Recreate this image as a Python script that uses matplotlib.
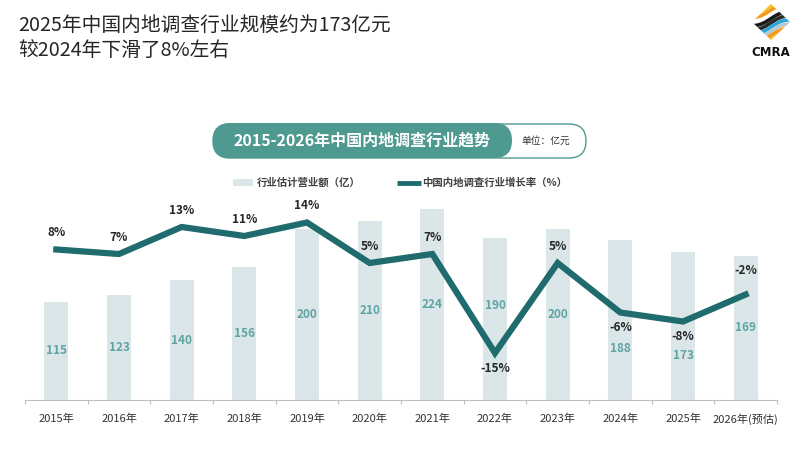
import matplotlib
matplotlib.use("Agg")
import matplotlib.pyplot as plt
from matplotlib.patches import FancyBboxPatch, Rectangle, Polygon
import numpy as np

plt.rcParams['font.family'] = ['Noto Sans CJK SC', 'DejaVu Sans']

# data
years = ['2015年', '2016年', '2017年', '2018年', '2019年', '2020年',
         '2021年', '2022年', '2023年', '2024年', '2025年', '2026年(预估)']
revenue = [115, 123, 140, 156, 200, 210, 224, 190, 200, 188, 173, 169]
growth = [8, 7, 13, 11, 14, 5, 7, -15, 5, -6, -8, -2]

title1 = '2025年中国内地调查行业规模约为173亿元'
title2 = '较2024年下滑了8%左右'
banner = '2015-2026年中国内地调查行业趋势'
unit = '单位：亿元'
leg_bar = '行业估计营业额（亿）'
leg_line = '中国内地调查行业增长率（%）'

# colours
bar_c = '#dbe6e8'
line_c = '#1f6b6d'
teal = '#4e9990'
barlbl_c = '#5ea4a2'
dark = '#262626'

W, H = 800, 450
fig = plt.figure(figsize=(8, 4.5), dpi=100)
fig.patch.set_facecolor('white')

# overlay in pixel coords for header items
ov = fig.add_axes([0, 0, 1, 1], zorder=0)
ov.set_xlim(0, W)
ov.set_ylim(H, 0)
ov.axis('off')

ov.text(18, 25, title1, fontsize=14.2, color=dark, va='center', ha='left')
ov.text(18, 50, title2, fontsize=14.2, color=dark, va='center', ha='left')

# banner pill
ov.add_patch(FancyBboxPatch((213, 124), 373, 34, boxstyle='round,pad=0,rounding_size=17',
                            fc='white', ec=teal, lw=1.0))
ov.add_patch(FancyBboxPatch((213, 123), 299, 35, boxstyle='round,pad=0,rounding_size=17.5',
                            fc=teal, ec='none'))
ov.text(362, 140.5, banner, fontsize=11.5, fontweight='bold', color='white', ha='center', va='center')
ov.text(546, 140.5, unit, fontsize=7, color='#333333', ha='center', va='center')

# legend
ov.add_patch(Rectangle((233, 179), 20, 7, fc=bar_c, ec='none'))
ov.text(257, 182.5, leg_bar, fontsize=7.5, fontweight='bold', color='#404040', ha='left', va='center')
ov.plot([397, 421], [182.5, 182.5], color=line_c, lw=3.5, solid_capstyle='butt')
ov.text(422, 182.5, leg_line, fontsize=7.5, fontweight='bold', color='#404040', ha='left', va='center')

# logo: wavy stripes clipped to a diamond
diamond = Polygon([(771, 4), (790, 22), (771, 40), (752, 22)], closed=True,
                  fc='none', ec='none', transform=ov.transData)
ov.add_patch(diamond)
stripe_cols = ['#f7c21b', '#f39a1e', 'white', '#1a1a1a', '#2a2a2a', '#2aa7d8',
               '#b8c7d0', '#f39a1e', '#f7c21b']
xs = np.linspace(750, 792, 60)
for i, c in enumerate(stripe_cols):
    ys = 6 + i * 4.2 - 0.35 * (xs - 771) + 2.0 * np.sin((xs - 750) / 42 * 2 * np.pi)
    ln, = ov.plot(xs, ys, color=c, lw=2.6, solid_capstyle='butt')
    ln.set_clip_path(diamond)
ov.text(771, 52, 'CMRA', fontsize=8.5, fontweight='bold', color='#111111', ha='center', va='center',
        family='DejaVu Sans')

# chart
ax = fig.add_axes([25 / W, 50 / H, 752 / W, 210 / H], zorder=1)
ax.patch.set_alpha(0)
x = np.arange(len(years))
ax.bar(x, revenue, width=0.38, color=bar_c, zorder=1)
ax.set_xlim(-0.5, len(years) - 0.5)
ax.set_ylim(0, 246)
for s in ['top', 'right', 'left']:
    ax.spines[s].set_visible(False)
ax.spines['bottom'].set_color('#bfbfbf')
ax.spines['bottom'].set_linewidth(0.8)
ax.set_yticks([])
ax.set_xticks(x)
ax.set_xticklabels(years, fontsize=8, color='#333333')
ax.tick_params(axis='x', which='major', length=0, pad=10)
ax.set_xticks(np.arange(-0.5, len(years), 1), minor=True)
ax.tick_params(axis='x', which='minor', length=3, color='#bfbfbf', width=0.8)

# bar value labels, mostly centred, nudged where the line passes
label_frac = [0.5] * len(years)
label_frac[7] = 0.58
label_frac[9] = 0.32
label_frac[10] = 0.30
for xi, v, f in zip(x, revenue, label_frac):
    ax.text(xi, v * f, str(v), ha='center', va='center', fontsize=8.5,
            fontweight='bold', color=barlbl_c, zorder=2)

ax2 = ax.twinx()
ax2.set_ylim(-25.44, 21.22)
ax2.axis('off')
ax2.plot(x, growth, color=line_c, lw=4.5, solid_joinstyle='miter', zorder=3)
for xi, g in zip(x, growth):
    dy = -11 if g <= -6 else 12
    if xi == len(years) - 1:
        dy = 17
    ax2.annotate(f'{g}%', (xi, g), xytext=(0, dy), textcoords='offset points',
                 ha='center', va='center', fontsize=8.5, fontweight='bold', color=dark)

fig.savefig('out.png', dpi=100, facecolor='white')
